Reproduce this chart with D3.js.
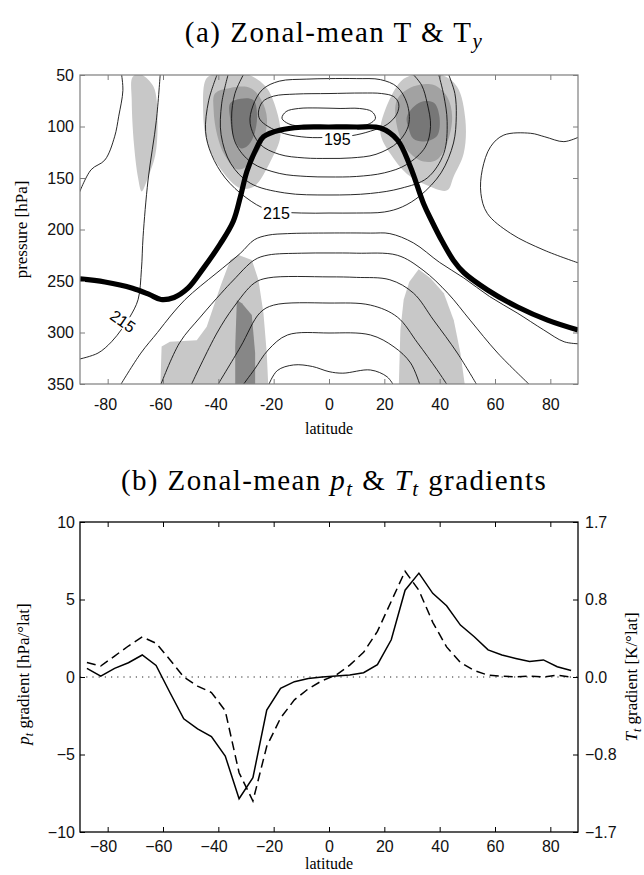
<!DOCTYPE html>
<html>
<head>
<meta charset="utf-8">
<script src="https://cdn.jsdelivr.net/npm/d3@7"></script>
<style>
  body { margin: 0; background: #fff; }
  svg { display: block; }
</style>
</head>
<body>
<div id="chart"></div>
<script>
// ---------- panel (a): zonal-mean temperature, [lat, pressure] ----------
const latTicks = [-80, -60, -40, -20, 0, 20, 40, 60, 80];
const pTicks = [50, 100, 150, 200, 250, 300, 350];

// closed contours around the tropical tropopause
const t190 = [[-17,92],[-15.5,85.5],[-11,82.5],[-4,82],[4,82.5],[11,82.5],[15.5,85.5],[16.8,92],[14.5,97.5],[9,100],[0,100.5],[-9,100],[-14.5,97.5]];
const t195 = [[-25.5,86],[-24,76],[-20,70.5],[-12,68.5],[0,68],[12,67.5],[19,68],[23.4,71],[25.2,78],[24.5,88],[21,98],[15,104.5],[8,109],[0,110.5],[-8,110.5],[-16,107],[-22,100],[-25,93]];
const t200 = [[-28.5,97],[-27.5,80],[-24,64],[-18,56],[-8,54],[0,53.5],[10,53.5],[18.6,54.5],[24.6,61.5],[28.2,77.5],[28.8,98],[25,115],[17,127],[8,130.5],[0,131],[-9,130.5],[-18,127],[-25,117]];
// open contours
const t205 = [[-31,50],[-34,68],[-35.2,92],[-33.8,116],[-28,135],[-18,145.5],[-8,148.5],[0,149],[10,148.5],[20,145],[28,137],[34.8,120],[36.7,100],[35.5,77.5],[33.5,60],[30.6,50]];
const t210 = [[-36.5,50],[-38.8,78],[-39,108],[-35.5,136],[-28.5,155],[-16,164.5],[0,166.5],[15,165],[26,160],[35.5,150],[41.5,126],[42.7,95],[41.5,70],[39.7,50]];
const t215 = [[-40.5,50],[-43.5,75],[-44.6,105],[-42.5,127],[-37.5,150],[-30,169],[-22,181],[-10,184],[0,184],[10,184],[20,183],[26.5,178],[33,167],[40.5,145],[45,116],[46,90],[45.5,68],[43.3,50]];
const t220 = [[-75.6,352],[-68,320],[-62,300],[-57,283],[-52,268],[-46.5,255],[-40.5,242],[-32,223],[-27,210],[-22,205.5],[-15,204],[0,203.4],[15,203.5],[22,204],[30.5,213],[40,232],[48.7,247],[58,265],[68,281],[77.6,297.5],[85,309],[90.5,311]];
const t225 = [[-61,352],[-54,310],[-46.5,285],[-39,262],[-34.5,249],[-27,229.6],[-22,224.8],[-10,223],[0,222.8],[10,223],[24.7,225],[34,239.5],[43,262],[51,288],[61,320],[73,352]];
const t230 = [[-50,352],[-40.5,300.5],[-34.5,275.5],[-27,252],[-22,247],[0,246],[10,246.5],[22,248.8],[30.5,261.7],[37.8,288],[46.4,320],[53.7,352]];
const t235 = [[-40.5,352],[-32,314],[-25,281],[-20,273.4],[0,271.4],[15,273.4],[24.7,285],[32,310],[39,336],[43,352]];
const t240 = [[-31.4,352],[-27,336],[-22,317],[-15,302.4],[0,300.5],[15,302.4],[23.5,314],[29.5,329.6],[33,352]];
const t245 = [[-22,352],[-18.7,337],[-12.8,331.5],[-6,333],[0,338],[5,339.5],[15,336.4],[21,343],[23.5,352]];
const tWest = [[-61,49],[-62.4,94],[-65.4,152],[-67.2,207],[-67.8,239],[-69,268],[-72,285],[-75,297],[-78.6,309],[-83.5,320],[-90.5,326]];
const tPolar = [[-75,49],[-74.5,65],[-76,90],[-77.5,110],[-81,132.5],[-86,142],[-90.5,166]];
const tEast = [[90.5,110],[84.9,114.7],[78,110],[72.9,106.6],[63.2,108.3],[58.4,119.6],[55.4,142],[54.9,165],[57.2,184.3],[65.6,203.7],[77.7,220],[90.5,232.8]];

// thermal tropopause
const tropopause = [[-90,248],[-81,251],[-71,257],[-65,263],[-60.7,268],[-56,266],[-51,257],[-45.5,238],[-39.3,214],[-34.6,192],[-32,168],[-29.6,143],[-26,120],[-23.7,110],[-17.6,103.4],[-10,100.7],[0,100.5],[10,100.5],[18.6,101.5],[24.7,113],[29.4,139],[34.2,175],[37,191],[41,212],[45,230],[48.8,242],[57.3,258.7],[68,275],[79,288],[90,297.6]];

// shaded T_y regions
const shadeLight = [
  [[-44.2,53],[-40,49],[-30,49],[-23,61],[-19,84],[-17.6,110],[-21,133],[-27,158],[-32,160],[-39,142],[-44,116],[-45.5,85]],
  [[26,56],[31,49.5],[40.4,49.5],[46.3,61.3],[49.3,93.7],[48.7,126],[45,149],[42.7,162],[35.4,157],[28.2,146],[22.2,126.5],[18.6,107],[19.8,87.7]],
  [[-71,52],[-68.5,49],[-63.5,61],[-62,93.7],[-62.8,128],[-65.5,150],[-67.7,163],[-69,150],[-70.5,117],[-71.3,75]]
];
const shadeMid = [
  [[-41.2,68],[-35.7,62.5],[-28.5,62.5],[-24.5,74],[-22.4,93],[-24.5,119],[-29.7,138.5],[-33.3,141.5],[-37.7,128],[-40.4,108.5],[-41.7,84]],
  [[24.6,74],[30.6,61],[37.9,59.7],[42.7,71],[44.5,90.5],[42.7,116],[39.1,132],[34.2,134],[28.2,122.8],[24.6,100]]
];
const shadeDark = [
  [[-35.7,77.5],[-31.9,73],[-27.3,74.5],[-26,90],[-27.3,110],[-29.7,119.5],[-32,121],[-34.5,110],[-35.7,93]],
  [[28.2,90],[33,76.5],[37.9,77],[39.9,90],[39.1,109],[34.5,114.5],[30.5,112],[28.8,102]]
];
const lowLight = [
  [[-61,355],[-60.5,313.5],[-57.5,309],[-47.8,307.5],[-44.2,294.4],[-39.3,255.5],[-35.7,229.6],[-32.7,224.8],[-27.9,229.6],[-25.5,249],[-23.7,281],[-22.5,320],[-21.9,355]],
  [[25.2,355],[25.8,297.6],[27,268],[29,251],[32.4,238.6],[36.7,247.4],[41.5,262],[45.1,288],[47.5,320],[49.3,355]]
];
const lowMid = [
  [[-33.3,268.4],[-31.5,271.6],[-27.9,283],[-26.7,320],[-26.7,355],[-33.9,355],[-33.9,313.8]]
];

const contourLabels = [
  { text: '195', lat: 3, p: 112, angle: 0 },
  { text: '215', lat: -19, p: 184.5, angle: 0 },
  { text: '215', lat: -74.5, p: 289, angle: 35 }
];

// ---------- panel (b): p_t and T_t gradients ----------
const latB = [-87.5,-82.5,-77.5,-72.5,-67.5,-62.5,-57.5,-52.5,-47.5,-42.5,-37.5,-32.5,-27.5,-22.5,-17.5,-12.5,-7.5,-2.5,
              2.5,7.5,12.5,17.5,22.5,27.5,32.5,37.5,42.5,47.5,52.5,57.5,62.5,67.5,72.5,77.5,82.5,87.5];
const ptGradient = [0.56,0.06,0.56,0.92,1.42,0.75,-1.0,-2.7,-3.35,-3.85,-5.1,-7.85,-6.5,-2.13,-0.73,-0.3,-0.1,0.0,
                    0.07,0.13,0.28,0.8,2.4,5.6,6.7,5.4,4.6,3.35,2.6,1.75,1.42,1.2,1.0,1.1,0.66,0.42];
const TtGradient = [0.16,0.12,0.23,0.34,0.44,0.37,0.19,0.0,-0.1,-0.17,-0.37,-1.05,-1.36,-0.76,-0.45,-0.25,-0.13,-0.04,
                    0.02,0.13,0.27,0.5,0.83,1.16,0.95,0.6,0.33,0.16,0.07,0.02,0.01,0.0,0.01,0.0,0.02,0.0];
const leftTicks = [-10, -5, 0, 5, 10];
const rightTicks = [-1.7, -0.85, 0, 0.85, 1.7];
const rightTickLabels = ['\u22121.7', '\u22120.8', '0.0', '0.8', '1.7'];

// ---------- drawing ----------
const width = 644, height = 875;
const sans = 'Liberation Sans, Arial, sans-serif';
const serif = 'Liberation Serif, Times New Roman, serif';

const svg = d3.select('#chart').append('svg')
    .attr('width', width)
    .attr('height', height);

const boxA = { left: 80, right: 578, top: 75, bottom: 384 };
const boxB = { left: 80, right: 578, top: 522, bottom: 832 };

const xA = d3.scaleLinear().domain([-90, 90]).range([boxA.left, boxA.right]);
const yA = d3.scaleLinear().domain([50, 350]).range([boxA.top, boxA.bottom]);

svg.append('clipPath').attr('id', 'clipA')
  .append('rect')
    .attr('x', boxA.left).attr('y', boxA.top)
    .attr('width', boxA.right - boxA.left)
    .attr('height', boxA.bottom - boxA.top);

const gA = svg.append('g').attr('clip-path', 'url(#clipA)');

const smooth = d3.line().x(d => xA(d[0])).y(d => yA(d[1])).curve(d3.curveCatmullRom.alpha(0.5));
const smoothClosed = d3.line().x(d => xA(d[0])).y(d => yA(d[1])).curve(d3.curveCatmullRomClosed.alpha(0.5));
const polygon = d3.line().x(d => xA(d[0])).y(d => yA(d[1])).curve(d3.curveLinearClosed);

const shadeLayers = [
  { shapes: shadeLight, fill: '#c8c8c8', gen: smoothClosed },
  { shapes: lowLight, fill: '#c8c8c8', gen: polygon },
  { shapes: shadeMid, fill: '#a2a2a2', gen: smoothClosed },
  { shapes: lowMid, fill: '#878787', gen: polygon },
  { shapes: shadeDark, fill: '#777777', gen: smoothClosed },
];
shadeLayers.forEach(layer => {
  gA.selectAll(null).data(layer.shapes).join('path')
    .attr('d', layer.gen)
    .attr('fill', layer.fill)
    .attr('stroke', 'none');
});

const closedContours = [t190, t195, t200];
const openContours = [t205, t210, t215, t220, t225, t230, t235, t240, t245, tWest, tPolar, tEast];

gA.selectAll(null).data(closedContours).join('path')
  .attr('d', smoothClosed)
  .attr('fill', 'none').attr('stroke', '#111').attr('stroke-width', 0.9);
gA.selectAll(null).data(openContours).join('path')
  .attr('d', smooth)
  .attr('fill', 'none').attr('stroke', '#111').attr('stroke-width', 0.9);

const labelG = gA.selectAll(null).data(contourLabels).join('g')
  .attr('transform', d => `translate(${xA(d.lat)},${yA(d.p)}) rotate(${d.angle})`);
labelG.append('rect')
  .attr('x', -15).attr('y', -7).attr('width', 30).attr('height', 14)
  .attr('fill', '#fff');
labelG.append('text')
  .attr('text-anchor', 'middle').attr('dy', '0.36em')
  .attr('font-family', sans).attr('font-size', 16)
  .text(d => d.text);

gA.append('path')
  .attr('d', smooth(tropopause))
  .attr('fill', 'none').attr('stroke', '#000').attr('stroke-width', 5.2);

// axes of panel (a)
const greyA = '#7d7d7d';
function styleAxis(g, color) {
  g.select('.domain').remove();
  g.selectAll('.tick line').attr('stroke', color);
  g.attr('font-family', sans).attr('font-size', 16);
  g.selectAll('.tick text').attr('fill', '#111');
}
svg.append('g')
    .attr('transform', `translate(0,${boxA.bottom})`)
    .call(d3.axisBottom(xA).tickValues(latTicks).tickFormat(d => String(d)).tickSizeInner(-5).tickSizeOuter(0).tickPadding(14.5))
    .call(g => styleAxis(g, greyA))
    .call(g => g.selectAll('.tick text').attr('dx', d => d < 0 ? -2.7 : 0));
svg.append('g')
    .attr('transform', `translate(0,${boxA.top})`)
    .call(d3.axisTop(xA).tickValues(latTicks).tickFormat('').tickSizeInner(-5).tickSizeOuter(0))
    .call(g => styleAxis(g, greyA));
svg.append('g')
    .attr('transform', `translate(${boxA.left},0)`)
    .call(d3.axisLeft(yA).tickValues(pTicks).tickSizeInner(-5).tickSizeOuter(0).tickPadding(6))
    .call(g => styleAxis(g, greyA));
svg.append('g')
    .attr('transform', `translate(${boxA.right},0)`)
    .call(d3.axisRight(yA).tickValues(pTicks).tickFormat('').tickSizeInner(-5).tickSizeOuter(0))
    .call(g => styleAxis(g, greyA));
svg.append('rect')
    .attr('x', boxA.left).attr('y', boxA.top)
    .attr('width', boxA.right - boxA.left).attr('height', boxA.bottom - boxA.top)
    .attr('fill', 'none').attr('stroke', greyA).attr('stroke-width', 1.2);

// panel (b)
const xB = d3.scaleLinear().domain([-90, 90]).range([boxB.left, boxB.right]);
const yB = d3.scaleLinear().domain([-10, 10]).range([boxB.bottom, boxB.top]);
const yBR = d3.scaleLinear().domain([-1.7, 1.7]).range([boxB.bottom, boxB.top]);

const rowsB = latB.map((lat, i) => ({ lat, pt: ptGradient[i], Tt: TtGradient[i] }));

svg.append('line')
    .attr('x1', xB(-90)).attr('x2', xB(90))
    .attr('y1', yB(0)).attr('y2', yB(0))
    .attr('stroke', '#222').attr('stroke-width', 1.1)
    .attr('stroke-dasharray', '1.2,5');

svg.append('path')
    .attr('d', d3.line().x(d => xB(d.lat)).y(d => yBR(d.Tt))(rowsB))
    .attr('fill', 'none').attr('stroke', '#000').attr('stroke-width', 1.5)
    .attr('stroke-dasharray', '9,5');
svg.append('path')
    .attr('d', d3.line().x(d => xB(d.lat)).y(d => yB(d.pt))(rowsB))
    .attr('fill', 'none').attr('stroke', '#000').attr('stroke-width', 1.5);

svg.append('g')
    .attr('transform', `translate(0,${boxB.bottom})`)
    .call(d3.axisBottom(xB).tickValues(latTicks).tickFormat(d3.format('d')).tickSizeInner(-5).tickSizeOuter(0).tickPadding(8.5))
    .call(g => styleAxis(g, '#000'))
    .call(g => g.selectAll('.tick text').attr('dx', d => d < 0 ? -4.7 : 0));
svg.append('g')
    .attr('transform', `translate(0,${boxB.top})`)
    .call(d3.axisTop(xB).tickValues(latTicks).tickFormat('').tickSizeInner(-5).tickSizeOuter(0))
    .call(g => styleAxis(g, '#000'));
svg.append('g')
    .attr('transform', `translate(${boxB.left},0)`)
    .call(d3.axisLeft(yB).tickValues(leftTicks).tickFormat(d3.format('d')).tickSizeInner(-5).tickSizeOuter(0).tickPadding(5))
    .call(g => styleAxis(g, '#000'));
svg.append('g')
    .attr('transform', `translate(${boxB.right},0)`)
    .call(d3.axisRight(yBR).tickValues(rightTicks).tickFormat((d, i) => rightTickLabels[i]).tickSizeInner(-5).tickSizeOuter(0).tickPadding(7))
    .call(g => styleAxis(g, '#000'));
svg.append('rect')
    .attr('x', boxB.left).attr('y', boxB.top)
    .attr('width', boxB.right - boxB.left).attr('height', boxB.bottom - boxB.top)
    .attr('fill', 'none').attr('stroke', '#000').attr('stroke-width', 1.3);

// titles and axis labels
const titleA = svg.append('text')
    .attr('x', 334).attr('y', 42)
    .attr('text-anchor', 'middle')
    .attr('font-family', serif).attr('font-size', 29)
    .attr('letter-spacing', 1.5);
titleA.append('tspan').text('(a) Zonal-mean T & T');
titleA.append('tspan').attr('font-style', 'italic').attr('font-size', 21).attr('dy', 6).text('y');

const titleB = svg.append('text')
    .attr('x', 334).attr('y', 490)
    .attr('text-anchor', 'middle')
    .attr('font-family', serif).attr('font-size', 29)
    .attr('letter-spacing', 1.4);
titleB.append('tspan').text('(b) Zonal-mean ');
titleB.append('tspan').attr('font-style', 'italic').text('p');
titleB.append('tspan').attr('font-style', 'italic').attr('font-size', 21).attr('dy', 6).text('t');
titleB.append('tspan').attr('dy', -6).text(' & ');
titleB.append('tspan').attr('font-style', 'italic').text('T');
titleB.append('tspan').attr('font-style', 'italic').attr('font-size', 21).attr('dy', 6).text('t');
titleB.append('tspan').attr('dy', -6).text(' gradients');

svg.append('text')
    .attr('x', 329).attr('y', 434)
    .attr('text-anchor', 'middle')
    .attr('font-family', serif).attr('font-size', 16)
    .text('latitude');
svg.append('text')
    .attr('x', 329).attr('y', 869)
    .attr('text-anchor', 'middle')
    .attr('font-family', serif).attr('font-size', 16)
    .text('latitude');

svg.append('text')
    .attr('transform', `translate(27,${(boxA.top + boxA.bottom) / 2}) rotate(-90)`)
    .attr('text-anchor', 'middle')
    .attr('font-family', serif).attr('font-size', 17)
    .text('pressure [hPa]');

const labelL = svg.append('text')
    .attr('transform', `translate(29,674) rotate(-90)`)
    .attr('text-anchor', 'middle')
    .attr('font-family', serif).attr('font-size', 17);
labelL.append('tspan').attr('font-style', 'italic').text('p');
labelL.append('tspan').attr('font-style', 'italic').attr('font-size', 12).attr('dy', 4).text('t');
labelL.append('tspan').attr('dy', -4).text(' gradient [hPa/\u00B0lat]');

const labelR = svg.append('text')
    .attr('transform', `translate(637,677) rotate(-90)`)
    .attr('text-anchor', 'middle')
    .attr('font-family', serif).attr('font-size', 17);
labelR.append('tspan').attr('font-style', 'italic').text('T');
labelR.append('tspan').attr('font-style', 'italic').attr('font-size', 12).attr('dy', 4).text('t');
labelR.append('tspan').attr('dy', -4).text(' gradient [K/\u00B0lat]');
</script>
</body>
</html>
